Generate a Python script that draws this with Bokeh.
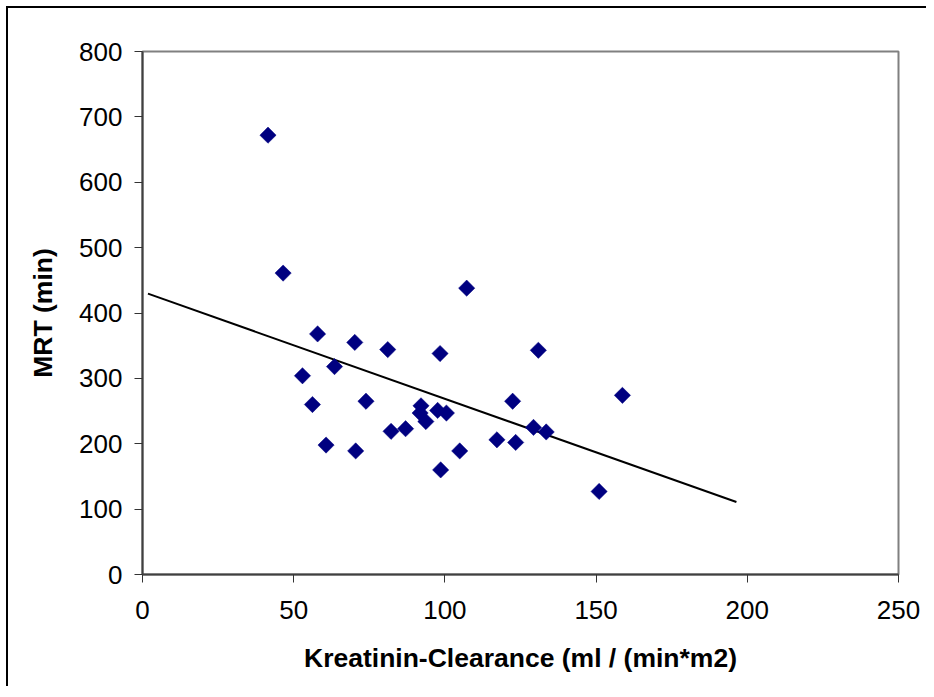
import numpy as np
from bokeh.plotting import figure
from bokeh.models import Range1d, FixedTicker
from bokeh.embed import file_html
from bokeh.resources import INLINE

# Data
clearance = [41.5, 46.5, 52.9, 56.2, 57.9, 60.7, 63.5, 70.2, 70.5, 73.9,
             81.1, 82.2, 87.0, 91.8, 92.1, 93.7, 97.6, 98.4, 98.6, 100.5,
             104.9, 107.2, 117.2, 122.4, 123.4, 129.3, 130.9, 133.5, 151.0, 158.7]
mrt = [672, 461, 304, 260, 368, 198, 318, 355, 189, 265,
       344, 219, 223, 247, 258, 234, 251, 338, 160, 247,
       189, 438, 206, 265, 202, 225, 343, 218, 127, 274]
trend_x = [1.8, 196.4]
trend_y = [429.6, 110.9]
x_ticks = [0, 50, 100, 150, 200, 250]
y_ticks = [0, 100, 200, 300, 400, 500, 600, 700, 800]

p = figure(width=920, height=680, output_backend="svg", toolbar_location=None,
           x_range=Range1d(0, 250), y_range=Range1d(0, 800),
           min_border_left=134, min_border_top=43, min_border_right=30, min_border_bottom=114)
p.styles = {"border-left": "2px solid black", "border-top": "2px solid black",
            "margin-left": "6px", "margin-top": "6px"}

p.grid.visible = False
p.outline_line_color = "#808080"
p.outline_line_width = 2
p.background_fill_color = "white"
p.border_fill_color = "white"

for ax in (p.xaxis[0], p.yaxis[0]):
    ax.axis_line_color = "#404040"
    ax.axis_line_width = 2
    ax.major_tick_line_color = "#333333"
    ax.major_tick_line_width = 1
    ax.major_tick_in = 0
    ax.major_tick_out = 8
    ax.minor_tick_line_color = None
    ax.major_label_text_font = "Liberation Sans"
    ax.major_label_text_font_size = "26px"
    ax.major_label_text_color = "black"
    ax.axis_label_text_font = "Liberation Sans"
    ax.axis_label_text_font_style = "bold"
    ax.axis_label_text_font_size = "26.5px"
    ax.axis_label_text_color = "black"

p.xaxis.ticker = FixedTicker(ticks=x_ticks)
p.yaxis.ticker = FixedTicker(ticks=y_ticks)
p.xaxis.axis_label = "Kreatinin-Clearance (ml / (min*m2)"
p.yaxis.axis_label = "MRT (min)"
p.xaxis.major_label_standoff = 18
p.yaxis.major_label_standoff = 12
p.xaxis.axis_label_standoff = 21
p.yaxis.axis_label_standoff = 18

p.line(trend_x, trend_y, line_color="black", line_width=2)
p.scatter(clearance, mrt, marker="square", angle=np.pi / 4, size=11.5,
          fill_color="#000080", line_color="#000080", line_width=0.5)

open("out.html", "w").write(file_html(p, INLINE))
